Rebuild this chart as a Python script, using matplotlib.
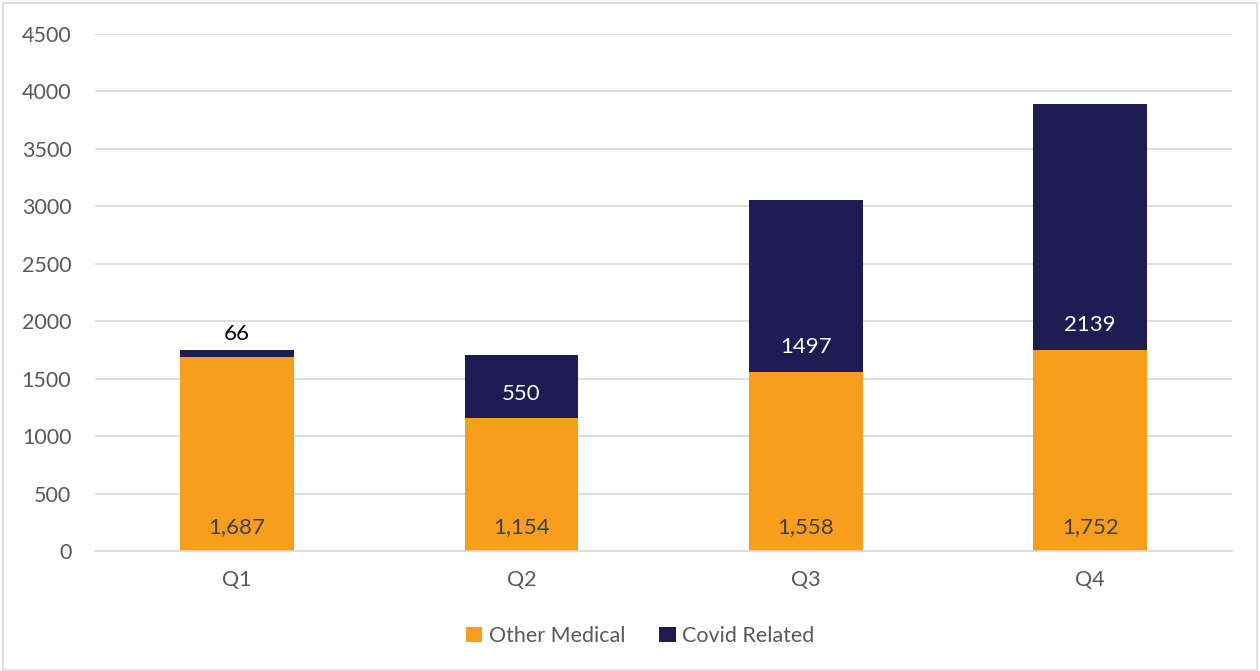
import matplotlib.pyplot as plt
from matplotlib.patches import Rectangle

plt.rcParams['font.family'] = ['Lato', 'DejaVu Sans']

quarters = ['Q1', 'Q2', 'Q3', 'Q4']
other_medical = [1687, 1154, 1558, 1752]
covid_related = [66, 550, 1497, 2139]

orange = '#F99D1C'
navy = '#1F1B53'
grid_c = '#D9D9D9'
text_c = '#595959'

fig = plt.figure(figsize=(12.6, 6.71), dpi=100)
ax = fig.add_axes([0.0754, 0.1788, 0.9026, 0.7705])

x = range(len(quarters))
b1 = ax.bar(x, other_medical, width=0.4, color=orange, label='Other Medical', zorder=2)
b2 = ax.bar(x, covid_related, width=0.4, bottom=other_medical, color=navy,
            label='Covid Related', zorder=2)

ax.set_ylim(0, 4500)
ax.set_xlim(-0.5, 3.5)
ax.set_yticks(range(0, 4501, 500))
ax.set_xticks(list(x))
ax.set_xticklabels(quarters)
ax.yaxis.grid(True, color=grid_c, linewidth=1.2, zorder=0)
for s in ax.spines.values():
    s.set_visible(False)
ax.spines['bottom'].set_visible(True)
ax.spines['bottom'].set_color(grid_c)
ax.spines['bottom'].set_linewidth(1.2)
ax.tick_params(axis='both', length=0, labelsize=15.5, colors=text_c)
ax.tick_params(axis='x', pad=14)
ax.tick_params(axis='y', pad=17)

for i in x:
    ax.text(i, 210, f'{other_medical[i]:,}', ha='center', va='center',
            fontsize=16, color='#404040', zorder=3)
    c = covid_related[i]
    if c < 200:
        ax.text(i, other_medical[i] + c + 140, f'{c}', ha='center', va='center',
                fontsize=16, color='black', zorder=3)
    else:
        ax.text(i, other_medical[i] + 215, f'{c}', ha='center', va='center',
                fontsize=16, color='white', zorder=3)

fig.legend(handles=[b1, b2], loc='center', bbox_to_anchor=(0.508, 0.052), ncol=2,
           frameon=False, fontsize=15.5, labelcolor=text_c, handlelength=0.75,
           handleheight=0.75, handletextpad=0.3, columnspacing=1.6)

fig.patches.append(Rectangle((0.002, 0.002), 0.996, 0.993, transform=fig.transFigure,
                             fill=False, edgecolor=grid_c, linewidth=1.2))

fig.savefig('out.png', dpi=100)
